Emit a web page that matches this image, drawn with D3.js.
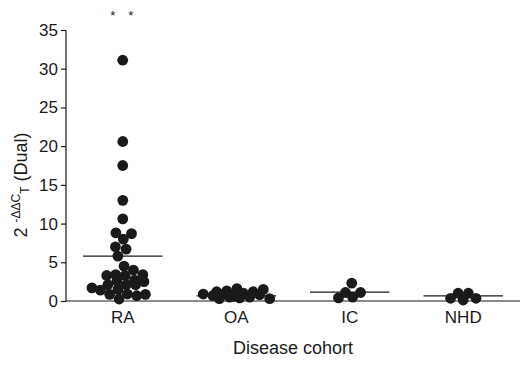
<!DOCTYPE html>
<html><head><meta charset="utf-8">
<script src="https://cdn.jsdelivr.net/npm/d3@7"></script>
<style>body{margin:0;background:#fff;} text{font-family:"Liberation Sans",Arial,sans-serif;fill:#1a1a1a;}</style>
</head><body><svg id="c" width="531" height="367"></svg>
<script>
const categories = ["RA", "OA", "IC", "NHD"];
const raValues = [31.1, 20.6, 17.5, 13.0, 10.6, 8.8, 8.7, 8.0, 7.0, 6.7, 5.8, 4.5, 4.0, 3.3, 3.4, 3.3, 3.4,
  2.5, 2.7, 2.6, 2.1, 2.1, 1.7, 2.1, 1.5, 0.86, 0.9, 0.86, 0.68, 0.26, 1.4];
const oaValues = [0.3, 0.5, 0.9, 1.2, 0.6, 1.5, 1.6, 1.3, 0.8, 0.4, 0.7, 1.0, 0.3, 1.2, 0.5, 0.9];
const icValues = [1.1, 2.3, 0.4, 1.1, 0.5];
const nhdValues = [0.35, 1.0, 0.13, 1.0, 0.35];
const medians = [5.8, 0.65, 1.15, 0.65];
const yTicks = [0, 5, 10, 15, 20, 25, 30, 35];
const seriesValues = [raValues, oaValues, icValues, nhdValues];

const svg = d3.select("#c");
const x = d3.scaleBand().domain(categories).range([66, 520]);
const y = d3.scaleLinear().domain([0, 35]).range([301, 30]);
const r = 5.4;
const half = x.bandwidth() * 0.35;

// axes
const yAxis = d3.axisLeft(y).tickValues(yTicks).tickSize(5).tickPadding(3);
const gy = svg.append("g").attr("transform", "translate(66,0)").call(yAxis);
gy.select(".domain").attr("d", "M0,30V301").attr("stroke", "#1a1a1a").attr("stroke-width", 1.2);
gy.selectAll(".tick line").attr("stroke", "#1a1a1a").attr("stroke-width", 1.2);
gy.selectAll(".tick text").attr("font-size", 17).attr("font-family", "Liberation Sans, Arial, sans-serif").attr("fill", "#1a1a1a");

const xAxis = d3.axisBottom(x).tickSize(0).tickPadding(10);
const gx = svg.append("g").attr("transform", "translate(0,301)").call(xAxis);
gx.select(".domain").attr("d", "M66,0H520").attr("stroke", "#1a1a1a").attr("stroke-width", 1.2);
gx.selectAll(".tick text").attr("font-size", 17).attr("font-family", "Liberation Sans, Arial, sans-serif").attr("fill", "#1a1a1a");

// median lines
svg.append("g").selectAll("line").data(categories).join("line")
  .attr("x1", d => x(d) + x.bandwidth() / 2 - half)
  .attr("x2", d => x(d) + x.bandwidth() / 2 + half)
  .attr("y1", (d, i) => y(medians[i])).attr("y2", (d, i) => y(medians[i]))
  .attr("stroke", "#1a1a1a").attr("stroke-width", 1.2);

// beeswarm points
const nodes = [];
categories.forEach((c, i) => {
  seriesValues[i].forEach(v => nodes.push({cat: c, v, cx: x(c) + x.bandwidth() / 2, x: x(c) + x.bandwidth() / 2, y: y(v)}));
});
nodes.forEach((n, i) => { n.x += ((i * 7) % 11 - 5) * 0.8; });
const sim = d3.forceSimulation(nodes)
  .force("x", d3.forceX(d => d.cx).strength(0.06))
  .force("y", d3.forceY(d => y(d.v)).strength(1))
  .force("collide", d3.forceCollide(r * 0.95))
  .stop();
for (let i = 0; i < 300; i++) sim.tick();
svg.append("g").selectAll("circle").data(nodes).join("circle")
  .attr("cx", d => d.x).attr("cy", d => y(d.v)).attr("r", r).attr("fill", "#1a1a1a");

// asterisks
svg.append("g").selectAll("text").data(["*", "*"]).join("text")
  .attr("x", (d, i) => x("RA") + x.bandwidth() / 2 - 10 + i * 18).attr("y", 20)
  .attr("text-anchor", "middle").attr("font-size", 13).text(d => d);

// axis titles
svg.append("text").attr("x", 293).attr("y", 354).attr("text-anchor", "middle")
  .attr("font-size", 18).text("Disease cohort");
const yl = svg.append("text").attr("transform", "translate(27,185) rotate(-90)")
  .attr("text-anchor", "middle").attr("font-size", 18);
yl.append("tspan").text("2 ");
yl.append("tspan").attr("font-size", 12).attr("dy", -7).text("-ΔΔC");
yl.append("tspan").attr("font-size", 12).attr("dy", 9).text("T");
yl.append("tspan").attr("dy", -2).text(" (Dual)");
</script></body></html>
